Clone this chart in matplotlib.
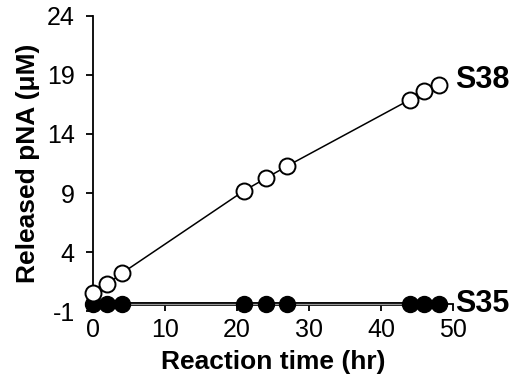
import matplotlib
matplotlib.use("Agg")
import matplotlib.pyplot as plt

plt.rcParams["font.family"] = ["Liberation Sans", "DejaVu Sans"]
plt.rcParams["axes.unicode_minus"] = False

# reaction time (hr)
time_hr = [0, 2, 4, 21, 24, 27, 44, 46, 48]
# released pNA (uM)
s38 = [0.5, 1.3, 2.2, 9.2, 10.25, 11.3, 16.9, 17.6, 18.15]
s35 = [-0.4, -0.4, -0.4, -0.4, -0.4, -0.4, -0.4, -0.4, -0.4]

X_TICKS = [0, 10, 20, 30, 40, 50]
Y_TICKS = [-1, 4, 9, 14, 19, 24]

fig = plt.figure(figsize=(5.22, 3.87), dpi=100)
ax = fig.add_axes([0.178, 0.196, 0.69, 0.763])

# S35: outlined grey line that sits on the x axis
ax.plot(time_hr, s35, color="black", linewidth=2.8, solid_capstyle="butt", zorder=3, clip_on=False)
ax.plot(time_hr, s35, color="#999999", linewidth=1.0, solid_capstyle="butt", zorder=3.1, clip_on=False)
ax.plot(time_hr, s35, linestyle="none", marker="o", markersize=11.5,
        markerfacecolor="black", markeredgecolor="black", zorder=4, clip_on=False)

ax.plot(time_hr, s38, color="black", linewidth=1.1, marker="o", markersize=11.5,
        markerfacecolor="white", markeredgecolor="black", markeredgewidth=1.4,
        zorder=5, clip_on=False)

ax.text(48 + 2.3, s38[-1] + 0.4, "S38", fontsize=22, fontweight="bold", va="center", ha="left")
ax.text(48 + 2.3, s35[-1], "S35", fontsize=22, fontweight="bold", va="center", ha="left")

ax.set_xlim(0, 50)
ax.set_ylim(-1, 24)
ax.set_xticks(X_TICKS)
ax.set_yticks(Y_TICKS)
ax.spines["top"].set_visible(False)
ax.spines["right"].set_visible(False)
ax.spines["bottom"].set_position(("data", -0.4))
for s in ("left", "bottom"):
    ax.spines[s].set_linewidth(1.3)
ax.tick_params(labelsize=18, width=1.3, length=5, direction="out")
ax.tick_params(axis="x", pad=5)
ax.tick_params(axis="y", pad=8)

ax.set_xlabel("Reaction time (hr)", fontsize=19, fontweight="bold", labelpad=6)
ax.set_ylabel("Released pNA (\u03bcM)", fontsize=19, fontweight="bold", labelpad=5)

fig.savefig("out.png", dpi=100)
